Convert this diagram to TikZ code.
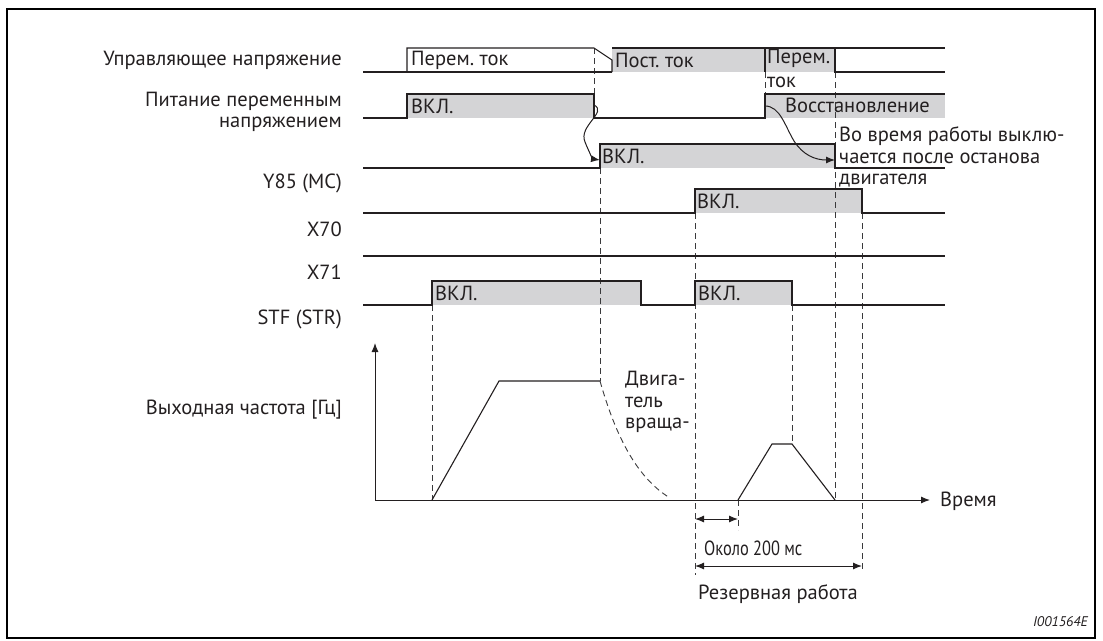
\documentclass[tikz,border=0pt]{standalone}
\usepackage{fontspec}
\setmainfont{PT Sans}
\newfontfamily\schmal[FakeStretch=0.8]{PT Sans}
\usetikzlibrary{positioning,calc,arrows.meta}
\definecolor{tinte}{HTML}{231F20}
\definecolor{grau}{HTML}{D4D4D6}
\definecolor{strich}{HTML}{3A3A3C}
\frenchspacing

\begin{document}
\begin{tikzpicture}[x=1pt, y=-1pt, font=\fontsize{20.5}{21.5}\selectfont,
  every node/.style={text=tinte, inner sep=0pt},
  sig/.style={draw=tinte, line width=1.1pt},
  puls/.style={fill=grau},
  hilf/.style={draw=strich, line width=0.9pt, dash pattern=on 6pt off 4pt},
  pfeil/.style={draw=tinte, line width=1pt, -{Latex[length=9pt,width=7pt]}},
  mass/.style={draw=tinte, line width=1pt, {Latex[length=9pt,width=7pt]}-{Latex[length=9pt,width=7pt]}},
  lbl/.style={anchor=east, align=right},
  txt/.style={anchor=west, align=left}]
\useasboundingbox (0,0) rectangle (1103,640);
\draw[line width=1.3pt] (7,9) rectangle (1095,638);

% ================= подписи слева =================
\node[lbl] (lupr) at (342,60) {Управляющее напряжение};
\node[lbl] (lpit) at (342,112) {Питание переменным\\напряжением};
\node[lbl] (ly85) at (342,183) {Y85 (MC)};
\node[lbl] (lx70) at (342,229) {X70};
\node[lbl] (lx71) at (342,272) {X71};
\node[lbl] (lstf) at (342,319) {STF (STR)};
\node[lbl] (lfrq) at (342,410) {Выходная частота [Гц]};

% ================= заливка импульсов =================
\fill[puls] (612,48) rectangle (835,72);
\fill[puls] (407,94) rectangle (594,118);
\fill[puls] (765,94) rectangle (945,118);
\fill[puls] (600,144) rectangle (835,168);
\fill[puls] (695,189) rectangle (862,213);
\fill[puls] (432,281) rectangle (641,305);
\fill[puls] (695,281) rectangle (792,305);

% ================= вспомогательные линии =================
\draw[hilf] (594,48) -- (594,94);
\draw[hilf] (765,72) -- (765,94);
\draw[hilf] (600,168) -- (600,381);
\draw[hilf] (835,72) -- (835,500);
\draw[hilf] (432,305) -- (432,500);
\draw[hilf] (695,213) -- (695,575);
\draw[hilf] (792,305) -- (792,444);
\draw[hilf] (738,500) -- (738,530);
\draw[hilf] (862,213) -- (862,572);

% ================= сигналы =================
% управляющее напряжение
\draw[sig] (363,72) -- (612,72);
\draw[sig] (407,72) -- (407,48) -- (594,48) -- (612,60) -- (612,72);
\draw[sig] (612,48) -- (945,48);
\draw[sig] (765,48) -- (765,72);
\draw[sig] (835,48) -- (835,72) -- (945,72);
\node[txt] (ac1) at (411,60) {Перем. ток};
\node[txt] (dc) at (615,60) {Пост. ток};
\node[txt] (ac2a) at (767,58) {Перем.};
\node[txt] (ac2b) at (767,82) {ток};

% питание переменным напряжением
\draw[sig] (363,118) -- (407,118) -- (407,94) -- (594,94) -- (594,118) -- (765,118) -- (765,94) -- (945,94);
\node[txt] (ein1) at (411,106) {ВКЛ.};
\node[txt] (wied) at (785,105) {Восстановление};
\coordinate (ab1) at (594,105);
\coordinate (ab2) at (765,106);

% третья строка
\draw[sig] (363,168) -- (600,168) -- (600,144) -- (835,144) -- (835,168) -- (945,168);
\node[txt] (ein2) at (602,156) {ВКЛ.};
\coordinate (an1) at (600,160);
\coordinate (an2) at (835,160);
\node[txt] (aus) at (839,157) {Во время работы выклю-\\чается после останова\\двигателя};

% Y85 (MC)
\draw[sig] (363,213) -- (695,213) -- (695,189) -- (862,189) -- (862,213) -- (945,213);
\node[txt] (ein3) at (697,201) {ВКЛ.};

% X70
\draw[sig] (363,256) -- (945,256);

% STF (STR)
\draw[sig] (363,305) -- (432,305) -- (432,281) -- (641,281) -- (641,305) -- (695,305) -- (695,281) -- (792,281) -- (792,305) -- (945,305);
\node[txt] (ein4) at (435,293) {ВКЛ.};
\node[txt] (ein5) at (698,293) {ВКЛ.};

% переходы
\draw[pfeil] (ab1) .. controls (608,112) and (578,126) .. (585,142) .. controls (589,152) and (593,159) .. (an1);
\draw[pfeil] (ab2) .. controls (780,106) and (785,126) .. (794,141) .. controls (803,155) and (815,160) .. (an2);

% ================= выходная частота =================
\coordinate (o) at (375,500);
\draw[pfeil] (o) -- (375,343);
\draw[pfeil] (o) -- (930,500);
\node[txt] (zeit) at (940,501) {Время};
\draw[sig] (432,500) -- (499,381) -- (600,381);
\draw[hilf] (600,381) .. controls (614,430) and (634,476) .. (670,498);
\node[txt] (motor) at (625,402) {Двига-\\тель\\враща-};
\draw[sig] (738,500) -- (772,444) -- (792,444) -- (835,500);

% ================= размеры =================
\draw[mass] (695,519) -- (738,519);
\node[txt] (t200) at (704,548) {\schmal Около 200 мс};
\draw[mass] (695,566) -- (862,566);
\node (res) at (778,594) {Резервная работа};

\node[anchor=east, font=\fontsize{14}{16}\selectfont\itshape] (nr) at (1088,622) {I001564E};
\end{tikzpicture}
\end{document}
